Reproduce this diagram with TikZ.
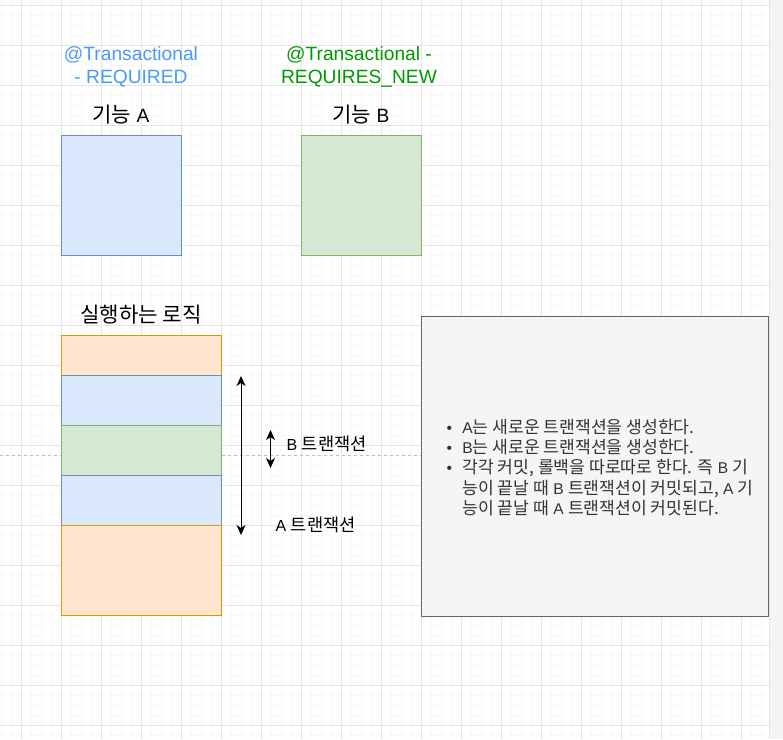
\documentclass[tikz,border=0pt]{standalone}
\usepackage{fontspec}
\setmainfont{Liberation Sans}
\newfontfamily\kr[Scale=1.1]{Noto Sans CJK KR}
\usetikzlibrary{arrows.meta}
\definecolor{tblue}{HTML}{4A99FA}
\definecolor{tgreen}{HTML}{009900}
\definecolor{blueF}{HTML}{DAE8FC}
\definecolor{blueS}{HTML}{6C8EBF}
\definecolor{greenF}{HTML}{D5E8D4}
\definecolor{greenS}{HTML}{82B366}
\definecolor{orangeF}{HTML}{FFE6CC}
\definecolor{orangeS}{HTML}{D79B00}
\definecolor{grayF}{HTML}{F5F5F5}
\definecolor{grayS}{HTML}{666666}
\definecolor{grayT}{HTML}{333333}
\definecolor{majorC}{HTML}{E4E4E4}
\definecolor{minorC}{HTML}{F8F8F8}
\definecolor{stripC}{HTML}{F3F4F6}
\tikzset{
  minorgrid/.style={draw=minorC,line width=1pt},
  majorgrid/.style={draw=majorC,line width=1pt},
  pagebreak/.style={draw=black!25,line width=1pt,dash pattern=on 3pt off 3pt},
  shapebox/.style={rectangle,inner sep=0pt,line width=1pt,minimum width=#1},
  bluebox/.style={shapebox=#1,fill=blueF,draw=blueS},
  greenbox/.style={shapebox=#1,fill=greenF,draw=greenS},
  orangebox/.style={shapebox=#1,fill=orangeF,draw=orangeS},
  notebox/.style={rectangle,inner sep=0pt,line width=1pt,fill=grayF,draw=grayS},
  bigtext/.style={inner sep=0pt,align=center,font=\fontsize{19.2}{23}\selectfont},
  midtext/.style={inner sep=0pt,font=\fontsize{16}{19}\selectfont},
  dblarrow/.style={line width=1pt,{Stealth[length=10pt,width=9pt,inset=3pt]}-{Stealth[length=10pt,width=9pt,inset=3pt]}}
}
\begin{document}
\begin{tikzpicture}[x=1pt,y=-1pt]
\useasboundingbox (0,0) rectangle (783,739);
\fill[white] (0,0) rectangle (769,739);
\fill[stripC] (769.5,0) rectangle (783,739);
\draw[majorC,line width=1pt] (769.5,0) -- (769.5,739);
% grid
\foreach \i in {0,...,76} \draw[minorgrid] ({1.7+10*\i},0) -- ({1.7+10*\i},739);
\foreach \j in {0,...,73} \draw[minorgrid] (0,{5+10*\j}) -- (769,{5+10*\j});
\foreach \i in {0,...,18} \draw[majorgrid] ({21.7+40*\i},0) -- ({21.7+40*\i},739);
\foreach \j in {0,...,18} \draw[majorgrid] (0,{5+40*\j}) -- (769,{5+40*\j});
% page break line
\coordinate (pbL) at (0,455);
\coordinate (pbR) at (769,455);
\draw[pagebreak] (pbL) -- (pbR);

% headers
\node[bigtext,text=tblue] (ta) at (131,67) {@Transactional\\- REQUIRED};
\node[bigtext,text=tgreen] (tb) at (359,67) {@Transactional -\\REQUIRES\_NEW};
\node[bigtext] (na) at (121,115) {{\kr 기능} A};
\node[bigtext] (nb) at (361,115) {{\kr 기능} B};

% function boxes
\node[bluebox=120,minimum height=120] (fa) at (121,195) {};
\node[greenbox=120,minimum height=120] (fb) at (361,195) {};

% logic stack
\node[bigtext] (logic) at (141,315) {\kr 실행하는 로직};
\node[orangebox=160,minimum height=40] (s1) at (141,355) {};
\node[bluebox=160,minimum height=50] (s2) at (141,400) {};
\node[greenbox=160,minimum height=50] (s3) at (141,450) {};
\node[bluebox=160,minimum height=50] (s4) at (141,500) {};
\node[orangebox=160,minimum height=90] (s5) at (141,570) {};

% arrows
\coordinate (aTop) at (241,376);
\coordinate (aBot) at (241,535);
\coordinate (bTop) at (270.5,430);
\coordinate (bBot) at (270.5,468);
\draw[dblarrow] (aTop) -- (aBot);
\draw[dblarrow] (bTop) -- (bBot);
\node[midtext,anchor=west] (lb) at (286.5,444) {B {\kr 트랜잭션}};
\node[midtext,anchor=west] (la) at (275.5,525) {A {\kr 트랜잭션}};

% note box
\node[notebox,minimum width=347,minimum height=300] (note) at (594.5,466) {};
\node[inner sep=0pt,anchor=north west,text=grayT] (notes) at (446.3,419.3) {%
\fontsize{15.6}{19.8}\selectfont
\begin{tabular}{@{}c@{\hspace{10.5pt}}l@{}}
\textbullet & A{\kr 는 새로운 트랜잭션을 생성한다.}\\
\textbullet & B{\kr 는 새로운 트랜잭션을 생성한다.}\\
\textbullet & {\kr 각각 커밋, 롤백을 따로따로 한다. 즉} B {\kr 기}\\
 & {\kr 능이 끝날 때} B {\kr 트랜잭션이 커밋되고,} A {\kr 기}\\
 & {\kr 능이 끝날 때} A {\kr 트랜잭션이 커밋된다.}
\end{tabular}};
\end{tikzpicture}
\end{document}
